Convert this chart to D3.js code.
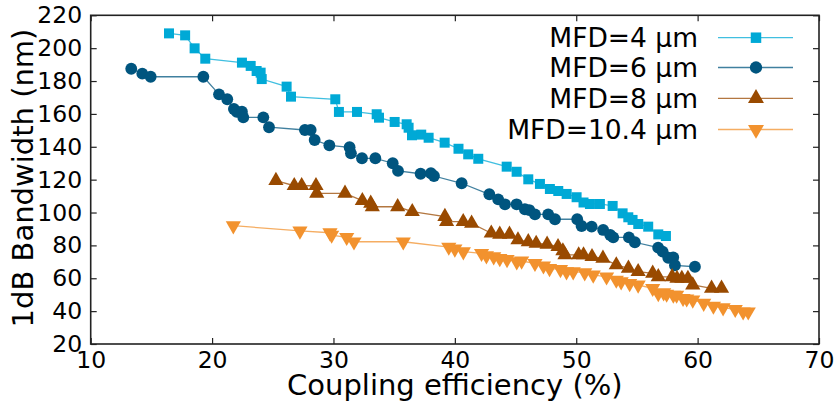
<!DOCTYPE html>
<html>
<head>
<meta charset="utf-8">
<script src="https://cdn.jsdelivr.net/npm/d3@7"></script>
<style>
   body { margin: 0; background: white; }
   text { font-family: "DejaVu Sans", sans-serif; fill: black; }
</style>
</head>
<body>
<div id="chart"></div>
<script>
// data: coupling efficiency (%) vs 1dB bandwidth (nm)
var seriesNames = ["MFD=4 µm", "MFD=6 µm", "MFD=8 µm", "MFD=10.4 µm"];

var mfd4_x = [16.45, 17.78, 18.56, 19.44, 22.46, 23.18, 23.67, 24.0, 24.09, 26.14, 26.5, 30.15, 30.45, 31.94, 33.56, 33.75, 35.04, 36.03, 36.19, 36.47, 37.23, 37.84, 39.16, 40.3, 41.1, 41.93, 44.27, 45.09, 46.05, 47.01, 47.83, 48.52, 49.21, 50.03, 50.6, 51.13, 51.95, 53.0, 53.82, 54.29, 54.64, 55.11, 55.93, 56.76, 57.39];
var mfd4_y = [209.0, 207.8, 199.9, 193.6, 191.2, 189.2, 186.1, 185.1, 181.2, 176.6, 170.5, 168.9, 161.2, 161.2, 159.8, 157.7, 155.1, 153.7, 151.6, 147.0, 147.4, 145.5, 142.5, 138.8, 135.4, 132.7, 127.9, 124.8, 120.2, 117.4, 114.3, 113.1, 111.3, 109.3, 106.1, 105.2, 105.2, 104.0, 99.5, 97.1, 95.5, 93.0, 91.4, 86.7, 85.7];

var mfd6_x = [13.34, 14.25, 14.94, 19.28, 20.57, 21.25, 21.8, 22.03, 22.46, 22.57, 24.22, 24.69, 27.65, 28.12, 28.45, 29.66, 31.33, 31.44, 32.35, 33.45, 34.88, 35.32, 37.18, 38.03, 38.28, 40.56, 42.84, 43.57, 44.13, 45.09, 45.77, 46.13, 46.6, 47.69, 48.25, 50.08, 50.44, 51.27, 52.22, 52.8, 53.05, 54.34, 54.83, 56.75, 57.12, 57.58, 57.99, 58.13, 59.78];
var mfd6_y = [187.5, 184.5, 182.6, 182.6, 171.9, 168.9, 163.0, 161.3, 161.3, 157.9, 157.9, 151.9, 150.2, 150.2, 144.1, 140.9, 139.7, 136.0, 133.0, 133.0, 130.0, 125.3, 123.6, 123.9, 122.2, 117.8, 111.1, 108.0, 105.0, 105.0, 102.0, 101.5, 98.9, 98.9, 95.9, 95.9, 91.8, 91.4, 89.4, 86.3, 84.9, 84.9, 81.9, 78.6, 76.2, 72.5, 72.7, 67.9, 67.0];

var mfd8_x = [25.26, 26.77, 27.38, 28.56, 28.62, 30.95, 32.38, 33.07, 33.2, 35.29, 36.49, 39.18, 39.32, 40.69, 41.38, 43.0, 43.7, 44.5, 45.2, 46.05, 46.7, 47.6, 48.5, 48.9, 49.07, 50.2, 50.6, 51.3, 52.2, 53.3, 54.3, 55.1, 56.3, 56.76, 57.9, 58.3, 58.7, 59.2, 59.6, 61.15, 61.97];
var mfd8_y = [119.4, 116.3, 116.3, 116.3, 111.7, 111.7, 107.2, 105.6, 103.5, 103.5, 100.5, 97.5, 94.4, 94.4, 93.4, 87.4, 86.7, 86.7, 83.3, 82.2, 81.2, 80.7, 79.2, 76.6, 74.2, 74.2, 74.2, 73.1, 72.1, 68.1, 66.0, 64.0, 63.0, 60.9, 60.9, 59.9, 59.9, 59.9, 55.9, 53.9, 53.9];

var mfd104_x = [21.75, 27.24, 29.71, 29.85, 31.09, 31.69, 35.75, 39.5, 40.0, 40.7, 42.2, 42.6, 43.2, 43.7, 44.3, 45.1, 45.5, 46.6, 47.3, 47.8, 48.7, 49.2, 49.75, 50.7, 51.4, 52.5, 53.3, 53.7, 54.4, 55.1, 56.3, 56.76, 57.2, 57.45, 58.0, 58.27, 58.8, 59.1, 59.6, 60.5, 61.3, 62.1, 63.1, 63.75, 64.17];
var mfd104_y = [92.0, 88.8, 87.7, 86.3, 84.9, 82.2, 82.2, 79.0, 77.8, 76.2, 75.2, 73.7, 73.1, 72.1, 71.5, 70.1, 70.5, 69.1, 67.6, 66.0, 65.4, 64.0, 64.0, 63.4, 62.0, 60.9, 58.9, 57.9, 56.9, 55.9, 53.9, 50.8, 51.2, 50.4, 49.8, 49.8, 47.8, 47.5, 46.8, 44.8, 43.1, 42.1, 41.1, 39.6, 39.6];

var xTicks = [10, 20, 30, 40, 50, 60, 70];
var yTicks = [20, 40, 60, 80, 100, 120, 140, 160, 180, 200, 220];

var colors = ["#00a9d6", "#00557f", "#994a00", "#f2922e"];
var symbols = [d3.symbolSquare, d3.symbolCircle, d3.symbolTriangle, d3.symbolTriangle];
var symSizes = [100, 110, 100, 100];
var rotations = [0, 0, 0, 180];

var width = 836, height = 405;
var plotLeft = 90.7, plotRight = 819, plotTop = 15.3, plotBottom = 344;

var svg = d3.select("#chart").append("svg")
   .attr("width", width)
   .attr("height", height);

const x = d3.scaleLinear().domain([10, 70]).range([plotLeft, plotRight]);
const y = d3.scaleLinear().domain([20, 220]).range([plotBottom, plotTop]);

// axes with inward ticks on all four sides
svg.append("g")
   .attr("transform", "translate(0," + plotBottom + ")")
   .call(d3.axisBottom(x).tickValues(xTicks).tickSizeInner(-6).tickSizeOuter(0).tickPadding(7.5))
   .call(g => g.select(".domain").remove())
   .call(g => g.selectAll("text").style("font-size", "23.5px").style("font-family", "DejaVu Sans"));

svg.append("g")
   .attr("transform", "translate(" + plotLeft + ",0)")
   .call(d3.axisLeft(y).tickValues(yTicks).tickSizeInner(-6).tickSizeOuter(0).tickPadding(8.5))
   .call(g => g.select(".domain").remove())
   .call(g => g.selectAll("text").style("font-size", "23.5px").style("font-family", "DejaVu Sans"));

svg.append("g")
   .attr("transform", "translate(0," + plotTop + ")")
   .call(d3.axisTop(x).tickValues(xTicks).tickSizeInner(-6).tickSizeOuter(0).tickFormat(""))
   .call(g => g.select(".domain").remove());

svg.append("g")
   .attr("transform", "translate(" + plotRight + ",0)")
   .call(d3.axisRight(y).tickValues(yTicks).tickSizeInner(-6).tickSizeOuter(0).tickFormat(""))
   .call(g => g.select(".domain").remove());

svg.selectAll(".tick line").attr("stroke", "#222").attr("stroke-width", 1.2);

svg.append("rect")
   .attr("x", plotLeft)
   .attr("y", plotTop)
   .attr("width", plotRight - plotLeft)
   .attr("height", plotBottom - plotTop)
   .attr("fill", "none")
   .attr("stroke", "#222")
   .attr("stroke-width", 1.6);

// series
var allX = [mfd4_x, mfd6_x, mfd8_x, mfd104_x];
var allY = [mfd4_y, mfd6_y, mfd8_y, mfd104_y];

var line = d3.line()
   .x(d => x(d[0]))
   .y(d => y(d[1]));

for (var s = 0; s < 4; s++) {
   var pts = allX[s].map((v, i) => [v, allY[s][i]]);

   svg.append("path")
      .datum(pts)
      .attr("fill", "none")
      .attr("stroke", colors[s])
      .attr("stroke-opacity", 0.75)
      .attr("stroke-width", 1.3)
      .attr("d", line);

   var sym = d3.symbol().type(symbols[s]).size(symSizes[s]);
   var rot = rotations[s];

   svg.append("g").selectAll("path")
      .data(pts)
      .join("path")
      .attr("d", sym)
      .attr("fill", colors[s])
      .attr("transform", d => "translate(" + x(d[0]) + "," + y(d[1]) + ") rotate(" + rot + ")");
}

// legend
var legendY = [37.7, 67.5, 98.3, 129.5];

for (var k = 0; k < 4; k++) {
   var lg = svg.append("g").attr("transform", "translate(0," + legendY[k] + ")");

   lg.append("text")
      .attr("x", 698)
      .attr("y", 9.5)
      .attr("text-anchor", "end")
      .style("font-size", "26.5px")
      .text(seriesNames[k]);

   lg.append("line")
      .attr("x1", 718).attr("x2", 793)
      .attr("y1", 0).attr("y2", 0)
      .attr("stroke", colors[k])
      .attr("stroke-opacity", 0.75)
      .attr("stroke-width", 1.3);

   lg.append("path")
      .attr("d", d3.symbol().type(symbols[k]).size(symSizes[k] + 10))
      .attr("fill", colors[k])
      .attr("transform", "translate(756,0) rotate(" + rotations[k] + ")");
}

// axis titles
svg.append("text")
   .attr("x", (plotLeft + plotRight) / 2)
   .attr("y", 395)
   .attr("text-anchor", "middle")
   .style("font-size", "29px")
   .text("Coupling efficiency (%)");

svg.append("text")
   .attr("transform", "translate(33," + 178 + ") rotate(-90)")
   .attr("text-anchor", "middle")
   .style("font-size", "29px")
   .text("1dB Bandwidth (nm)");
</script>
</body>
</html>
